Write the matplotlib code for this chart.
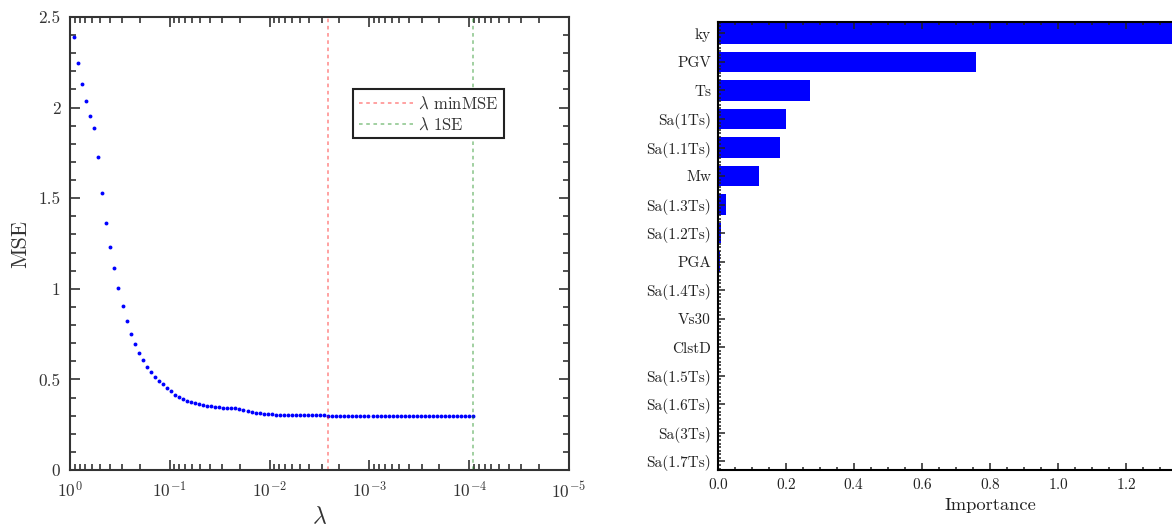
import numpy as np
import matplotlib
matplotlib.use("Agg")
from matplotlib import pyplot as plt
from matplotlib.ticker import MultipleLocator, LogLocator, NullFormatter, FixedLocator

plt.rcParams['font.family'] = 'serif'
plt.rcParams['font.serif'] = ['cmr10']
plt.rcParams['mathtext.fontset'] = 'cm'
plt.rcParams['axes.formatter.use_mathtext'] = True
plt.rcParams['axes.unicode_minus'] = True

# cross-validation path (100 lambdas, lambda_min_ratio = 1e-4)
lam_max = 0.909
lam_min = 0.909e-4
mse = [2.389, 2.247, 2.132, 2.036, 1.954, 1.889, 1.729, 1.529, 1.363, 1.228,
       1.113, 1.003, 0.903, 0.821, 0.752, 0.695, 0.648, 0.605, 0.568, 0.539,
       0.513, 0.490, 0.474, 0.455, 0.435, 0.416, 0.403, 0.392, 0.383, 0.375,
       0.370, 0.364, 0.358, 0.355, 0.351, 0.347, 0.345, 0.344, 0.344, 0.342,
       0.340, 0.334, 0.329, 0.323, 0.319, 0.316, 0.312, 0.310, 0.308, 0.307,
       0.306, 0.305, 0.304, 0.304, 0.303, 0.303, 0.302, 0.302, 0.302, 0.301,
       0.301, 0.301, 0.301, 0.300, 0.300, 0.300, 0.300, 0.300, 0.300, 0.300,
       0.300, 0.300, 0.300, 0.300, 0.300, 0.300, 0.300, 0.300, 0.300, 0.300,
       0.300, 0.300, 0.300, 0.300, 0.300, 0.300, 0.300, 0.300, 0.300, 0.300,
       0.300, 0.300, 0.300, 0.300, 0.300, 0.300, 0.300, 0.300, 0.300, 0.300]
lam = np.logspace(np.log10(lam_max), np.log10(lam_min), len(mse))
lam_minmse = 2.59e-3
lam_1se = 0.909e-4

# feature importance
features = ['ky', 'PGV', 'Ts', 'Sa(1Ts)', 'Sa(1.1Ts)', 'Mw', 'Sa(1.3Ts)', 'Sa(1.2Ts)',
            'PGA', 'Sa(1.4Ts)', 'Vs30', 'ClstD', 'Sa(1.5Ts)', 'Sa(1.6Ts)', 'Sa(3Ts)', 'Sa(1.7Ts)']
importance = [1.50, 0.760, 0.271, 0.201, 0.181, 0.122, 0.023, 0.010,
              0.007, 0.0, 0.0, 0.0, 0.0, 0.0, 0.0, 0.0]
imp_ticks = [0.0, 0.2, 0.4, 0.6, 0.8, 1.0, 1.2]

W, H = 1172, 529
fig = plt.figure(figsize=(W / 100, H / 100), dpi=100)

# ---- left: MSE vs lambda
ax1 = fig.add_axes([70 / W, (H - 470) / H, 499 / W, 453 / H])
ax1.plot(lam, mse, 'o', color='#0000ff', markersize=2.8, markeredgewidth=0)
ax1.axvline(lam_minmse, color='red', alpha=0.4, ls=(0, (2, 2)), lw=1.3, label=r'$\lambda$ minMSE')
ax1.axvline(lam_1se, color='green', alpha=0.4, ls=(0, (2, 2)), lw=1.3, label=r'$\lambda$ 1SE')
ax1.set_xscale('log')
ax1.set_xlim(1, 1e-5)
ax1.set_ylim(0, 2.5)
ax1.xaxis.set_major_locator(LogLocator(base=10, numticks=10))
ax1.xaxis.set_minor_locator(LogLocator(base=10, subs=np.arange(2, 10), numticks=20))
ax1.xaxis.set_minor_formatter(NullFormatter())
ax1.yaxis.set_minor_locator(MultipleLocator(0.1))
ax1.set_yticks([0, 0.5, 1, 1.5, 2, 2.5])
ax1.set_yticklabels(['0', '0.5', '1', '1.5', '2', '2.5'])
ax1.tick_params(which='both', direction='in', top=True, right=True, labelsize=12.5, colors='#333333', width=1.2)
ax1.tick_params(which='major', length=7, pad=7)
ax1.tick_params(which='minor', length=4)
for s in ax1.spines.values():
    s.set_linewidth(1.5)
    s.set_color('#333333')
ax1.set_xlabel(r'$\lambda$', fontsize=17, color='#333333', labelpad=4)
ax1.set_ylabel('MSE', fontsize=16, color='#333333', labelpad=6)
leg = ax1.legend(loc='upper left', bbox_to_anchor=(0.568, 0.84), fontsize=12, fancybox=False,
                 edgecolor='#222222', framealpha=1, handlelength=3.2, borderaxespad=0,
                 labelspacing=0.25, borderpad=0.35, handletextpad=0.3)
leg.get_frame().set_linewidth(1.5)
for t in leg.get_texts():
    t.set_color('#333333')

# ---- right: importance bars (cropped at the right edge)
ax2 = fig.add_axes([718 / W, (H - 470) / H, 1.6 * 340 / W, 448 / H])
ypos = np.arange(len(features))[::-1]
ax2.barh(ypos, importance, height=0.72, color='#0000ff')
ax2.set_yticks(ypos)
ax2.set_yticklabels(features)
ax2.set_xlim(0, 1.6)
ax2.set_ylim(-0.3, 15.4)
ax2.xaxis.set_major_locator(FixedLocator(imp_ticks))
ax2.xaxis.set_minor_locator(MultipleLocator(0.05))
ax2.yaxis.set_minor_locator(MultipleLocator(0.125))
ax2.tick_params(which='both', direction='in', top=True, right=True, labelsize=11, width=1.1, colors='#222222')
ax2.tick_params(which='major', length=5, pad=5)
ax2.tick_params(which='minor', length=2.5)
for s in ax2.spines.values():
    s.set_linewidth(1.5)
ax2.set_xlabel('Importance', fontsize=13.3, color='#222222')

fig.savefig('out.png', dpi=100)
